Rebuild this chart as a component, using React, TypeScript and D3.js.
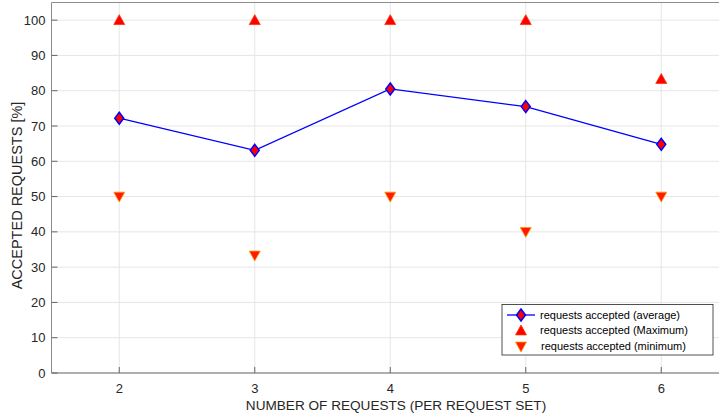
import React from "react";
import * as d3 from "d3";

const categories = [2, 3, 4, 5, 6];
const averageValues = [72.2, 63.1, 80.5, 75.5, 64.8];
const maximumValues = [100, 100, 100, 100, 83.3];
const minimumValues = [50, 33.3, 50, 40, 50];
const yTicks = [0, 10, 20, 30, 40, 50, 60, 70, 80, 90, 100];
const legendLabels = [
  "requests accepted (average)",
  "requests accepted (Maximum)",
  "requests accepted (minimum)",
];

const W = 719;
const H = 418;
const M = { left: 51.5, top: 2.5, right: 729, bottom: 373 };

export default function App() {
  const x = d3.scaleLinear().domain([1.5, 6.5]).range([M.left, M.right]);
  const y = d3.scaleLinear().domain([0, 105]).range([M.bottom, M.top]);
  const line = d3
    .line<number>()
    .x((_, i) => x(categories[i]))
    .y((d) => y(d));
  const font = "'Liberation Sans', Arial, sans-serif";
  const tri = (cx: number, cy: number, up: boolean, s = 5.5) =>
    up
      ? `M${cx},${cy - s} L${cx + s},${cy + s * 0.8} L${cx - s},${cy + s * 0.8} Z`
      : `M${cx},${cy + s} L${cx + s},${cy - s * 0.8} L${cx - s},${cy - s * 0.8} Z`;
  const diamond = (cx: number, cy: number, s = 6) =>
    `M${cx},${cy - s} L${cx + s * 0.75},${cy} L${cx},${cy + s} L${cx - s * 0.75},${cy} Z`;

  const lx = 502;
  const ly = 304.5;
  const lw = 211;
  const lh = 50.5;
  const rowY = [315, 330.5, 346.5];

  return (
    <svg
      width={W}
      height={H}
      style={{ position: "absolute", left: 0, top: 0, background: "#fff" }}
      fontFamily={font}
    >
      <defs>
        <clipPath id="plot">
          <rect x={M.left} y={M.top} width={M.right - M.left} height={M.bottom - M.top} />
        </clipPath>
      </defs>
      {/* grid */}
      <g stroke="#e6e6e6" strokeWidth={1}>
        {yTicks.map((t) => (
          <line key={"gy" + t} x1={M.left} x2={M.right} y1={y(t)} y2={y(t)} />
        ))}
        {categories.map((c) => (
          <line key={"gx" + c} x1={x(c)} x2={x(c)} y1={M.top} y2={M.bottom} />
        ))}
      </g>
      {/* axes box */}
      <g stroke="#8c8c8c" strokeWidth={1} fill="none">
        <line x1={M.left} x2={M.left} y1={M.top} y2={M.bottom} />
        <line x1={M.left} x2={M.right} y1={M.top} y2={M.top} />
        <line x1={M.left} x2={M.right} y1={M.bottom} y2={M.bottom} stroke="#999" strokeWidth={1.5} />
        {yTicks.map((t) => (
          <line key={"ty" + t} x1={M.left} x2={M.left + 6} y1={y(t)} y2={y(t)} stroke="#666" />
        ))}
        {categories.map((c) => (
          <line key={"tx" + c} x1={x(c)} x2={x(c)} y1={M.bottom} y2={M.bottom - 6} stroke="#666" />
        ))}
      </g>
      {/* tick labels */}
      <g fill="#262626" fontSize={13}>
        {yTicks.map((t) => (
          <text key={"ly" + t} x={M.left - 6} y={y(t)} dy="0.35em" textAnchor="end">
            {t}
          </text>
        ))}
        {categories.map((c) => (
          <text key={"lx" + c} x={x(c)} y={M.bottom + 20} textAnchor="middle">
            {c}
          </text>
        ))}
      </g>
      {/* axis labels */}
      <text x={396} y={410} textAnchor="middle" fontSize={13.6} fill="#262626">
        NUMBER OF REQUESTS (PER REQUEST SET)
      </text>
      <text
        transform={`translate(22,195.5) rotate(-90)`}
        textAnchor="middle"
        fontSize={14.5}
        fill="#262626"
      >
        ACCEPTED REQUESTS [%]
      </text>
      {/* data */}
      <g clipPath="url(#plot)">
        <path d={line(averageValues) || ""} fill="none" stroke="#0000ff" strokeWidth={1.3} />
        {averageValues.map((v, i) => (
          <path key={"a" + i} d={diamond(x(categories[i]), y(v))} fill="#ff0000" stroke="#0000ff" strokeWidth={1.5} />
        ))}
        {maximumValues.map((v, i) => (
          <path key={"mx" + i} d={tri(x(categories[i]), y(v), true)} fill="#ff0000" stroke="#ff3300" strokeWidth={0.8} />
        ))}
        {minimumValues.map((v, i) => (
          <path key={"mn" + i} d={tri(x(categories[i]), y(v), false)} fill="#ff1a00" stroke="#ff9900" strokeWidth={0.8} />
        ))}
      </g>
      {/* legend */}
      <rect x={lx} y={ly} width={lw} height={lh} fill="#fff" stroke="#262626" strokeWidth={0.8} />
      <line x1={lx + 5} x2={lx + 33} y1={rowY[0]} y2={rowY[0]} stroke="#0000ff" strokeWidth={1.3} />
      <path d={diamond(lx + 19, rowY[0])} fill="#ff0000" stroke="#0000ff" strokeWidth={1.5} />
      <path d={tri(lx + 19, rowY[1], true)} fill="#ff0000" stroke="#ff3300" strokeWidth={0.8} />
      <path d={tri(lx + 19, rowY[2], false)} fill="#ff1a00" stroke="#ff9900" strokeWidth={0.8} />
      <g fontSize={11} fill="#000">
        <text x={lx + 38} y={rowY[0]} dy="0.35em">{legendLabels[0]}</text>
        <text x={lx + 38} y={rowY[1]} dy="0.35em">{legendLabels[1]}</text>
        <text x={lx + 39} y={rowY[2]} dy="0.35em">{legendLabels[2]}</text>
      </g>
    </svg>
  );
}
